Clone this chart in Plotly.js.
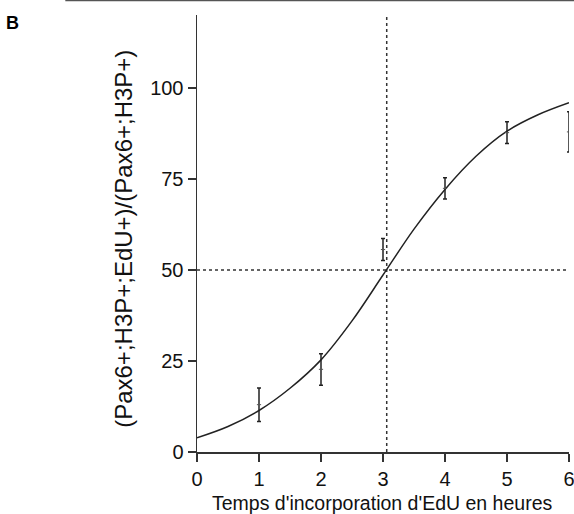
<!DOCTYPE html>
<html>
<head>
<meta charset="utf-8">
<script src="https://cdn.plot.ly/plotly-3.0.1.min.js"></script>
<style>html,body{margin:0;padding:0;background:#fff;}#chart{width:574px;height:514px;}</style>
</head>
<body>
<div id="chart"></div>
<script>
// Measured points (means with error bars)
const hours = [1, 2, 3, 4, 5, 6];
const meanPct = [13.0, 22.7, 55.6, 72.4, 87.7, 87.9];
const errUp = [4.6, 4.3, 3.0, 2.9, 3.0, 5.5];
const errDown = [4.6, 4.4, 3.0, 2.9, 3.0, 5.5];

// Fitted sigmoid curve
const curveX = [0, 0.5, 1, 1.5, 2, 2.5, 3, 3.5, 4, 4.5, 5, 5.5, 6];
const curveY = [3.9, 7.0, 11.4, 17.5, 25.3, 36.0, 48.6, 61.2, 72.1, 81.2, 88.1, 92.6, 95.9];

// Reference (half-maximum) lines
const halfX = 3.06;
const halfY = 50;

const xTicks = [0, 1, 2, 3, 4, 5, 6];
const yTicks = [0, 25, 50, 75, 100];
const xRange = [0, 6];
const yRange = [0, 120];

const dark = '#222';
const traces = [
  {x: [halfX, halfX], y: yRange, mode: 'lines', line: {color: '#333', width: 1.5, dash: '3px,3px'}, hoverinfo: 'skip'},
  {x: xRange, y: [halfY, halfY], mode: 'lines', line: {color: '#333', width: 1.5, dash: '3px,3px'}, hoverinfo: 'skip'},
  {x: curveX, y: curveY, mode: 'lines', line: {color: dark, width: 1.5, shape: 'spline', smoothing: 1}},
  {x: hours, y: meanPct, mode: 'markers',
   marker: {symbol: 'line-ew-open', size: 3, color: '#555', line: {color: '#555', width: 1}},
   error_y: {type: 'data', symmetric: false, array: errUp, arrayminus: errDown, color: dark, thickness: 1.5, width: 2}}
];

const layout = {
  width: 574, height: 514,
  margin: {l: 197, r: 5, t: 15, b: 62},
  paper_bgcolor: '#fff', plot_bgcolor: '#fff',
  showlegend: false,
  font: {family: 'Liberation Sans, Arial, sans-serif', color: '#111'},
  xaxis: {
    range: xRange, tickvals: xTicks, ticktext: xTicks.map(String),
    showgrid: false, zeroline: false, showline: true, linecolor: '#333', linewidth: 1.5,
    ticks: 'outside', ticklen: 8, tickwidth: 1.5, tickcolor: '#333',
    tickfont: {size: 20, color: '#111'}, ticklabeloverflow: 'allow', fixedrange: true
  },
  yaxis: {
    range: yRange, tickvals: yTicks, ticktext: yTicks.map(String),
    showgrid: false, zeroline: false, showline: true, linecolor: '#333', linewidth: 1.5,
    ticks: 'outside', ticklen: 8, tickwidth: 1.5, tickcolor: '#333',
    tickfont: {size: 20, color: '#111'}, fixedrange: true
  },
  annotations: [
    {text: '(Pax6+;H3P+;EdU+)/(Pax6+;H3P+)', textangle: -90, xref: 'paper', yref: 'paper',
     x: -0.196, y: 0.488, xanchor: 'center', yanchor: 'middle', showarrow: false,
     font: {size: 24, color: '#111'}},
    {text: "Temps d'incorporation d'EdU en heures", xref: 'paper', yref: 'paper',
     x: 0.497, y: -0.116, xanchor: 'center', yanchor: 'middle', showarrow: false,
     font: {size: 19.5, color: '#111'}},
    {text: '<b>B</b>', xref: 'paper', yref: 'paper', x: -0.52, y: 1.01, xanchor: 'left', yanchor: 'top',
     showarrow: false, font: {size: 18, color: '#000'}}
  ],
  shapes: [
    {type: 'line', xref: 'paper', yref: 'paper', x0: -0.354, x1: 1.02, y0: 1.033, y1: 1.033,
     line: {color: '#555', width: 1.5}}
  ]
};

Plotly.newPlot('chart', traces, layout, {displayModeBar: false, staticPlot: true});
</script>
</body>
</html>
